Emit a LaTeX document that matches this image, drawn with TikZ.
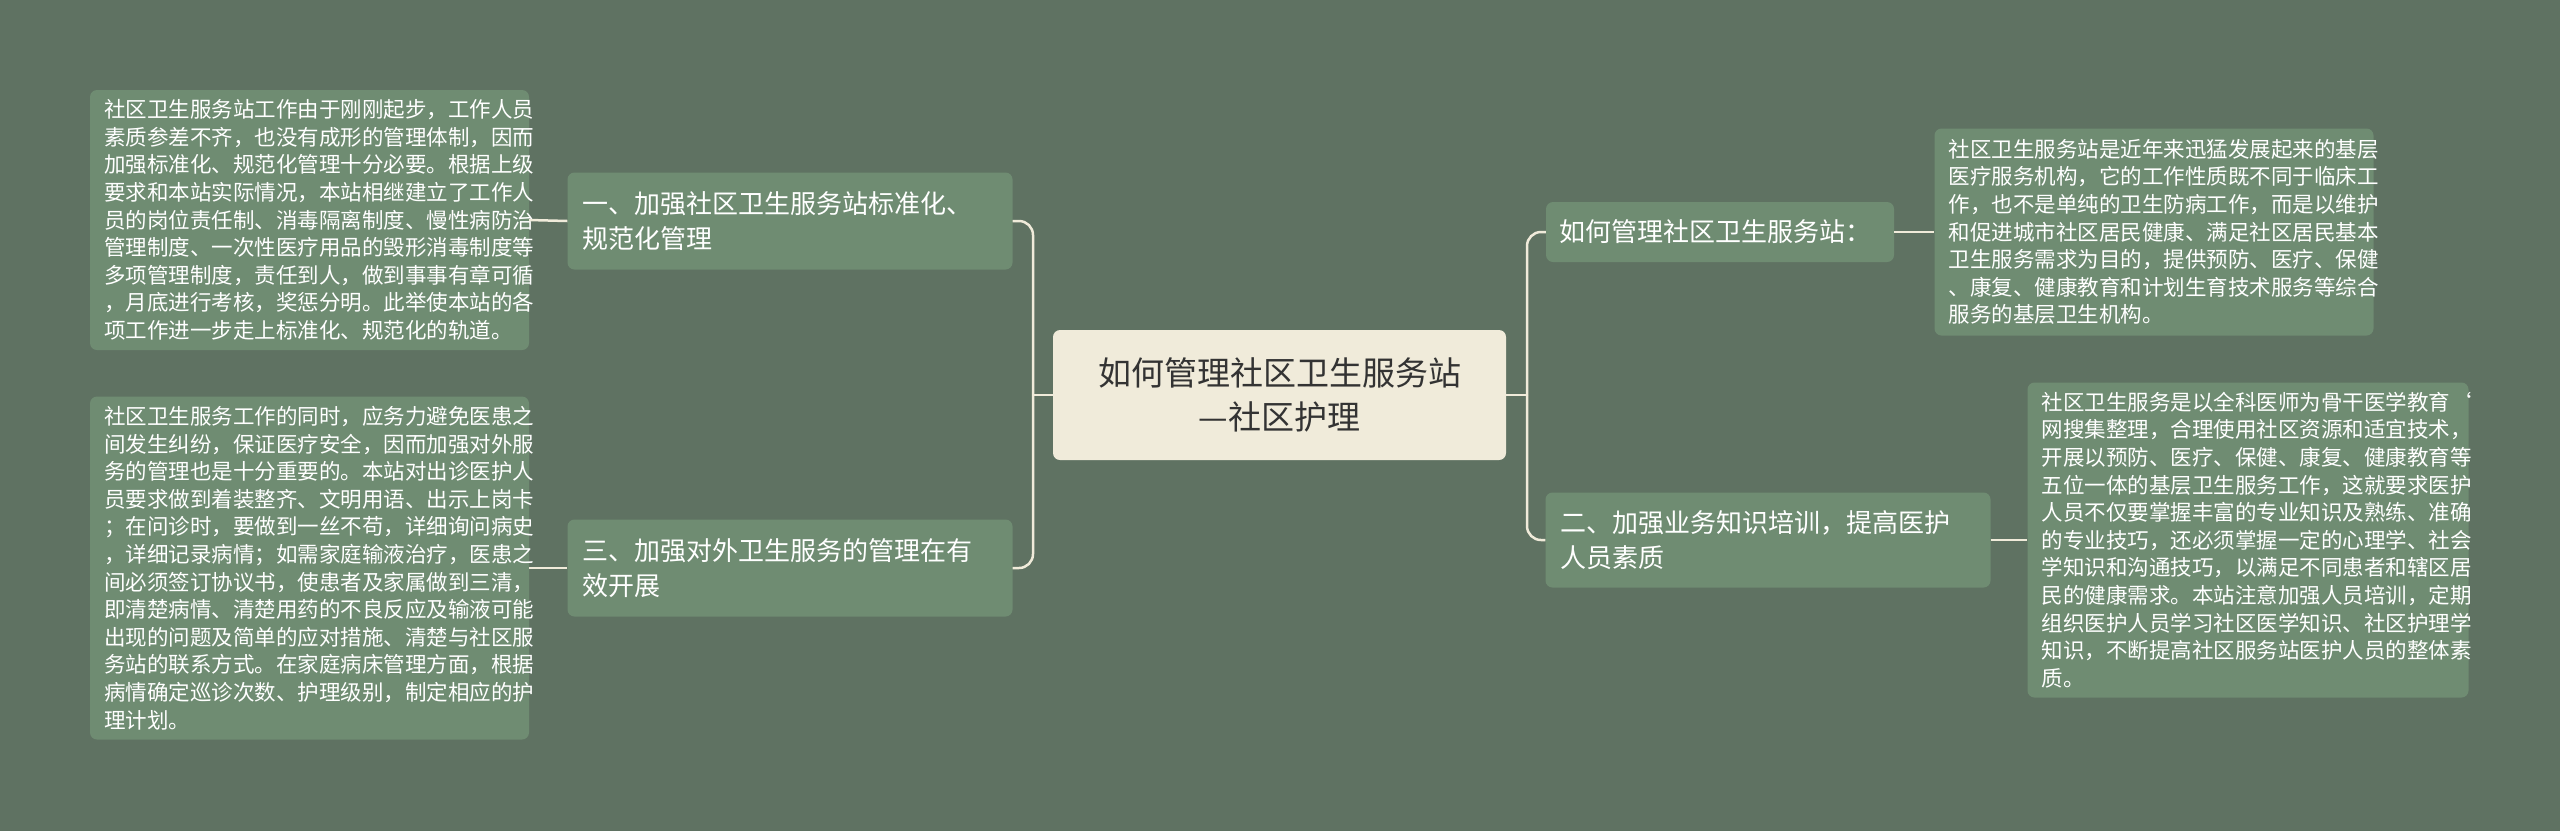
\documentclass[tikz,border=0pt]{standalone}
\usepackage{fontspec}
\setmainfont{Noto Sans CJK SC}
\definecolor{bg}{HTML}{5F7262}
\definecolor{boxc}{HTML}{6F8C72}
\definecolor{cream}{HTML}{F0EBDA}
\definecolor{darktxt}{HTML}{333333}
\begin{document}
\begin{tikzpicture}[x=1pt,y=1pt,
  leaf/.style={fill=boxc,rounded corners=7,text=white,align=left,inner sep=0pt,font=\fontsize{21.5}{27.6}\selectfont},
  branch/.style={fill=boxc,rounded corners=7,text=white,align=left,inner sep=0pt,font=\fontsize{26}{35}\selectfont},
  link/.style={draw=cream,line width=2.5pt}]
\fill[bg] (0,0) rectangle (2560,-831);
\useasboundingbox (0,0) rectangle (2560,-831);
\node[fill=cream,rounded corners=7,minimum width=453,minimum height=130,text=darktxt,align=center,font=\fontsize{33}{44}\selectfont] (c) at (1279.5,-395) {如何管理社区卫生服务站\\—社区护理};
\node[branch,minimum width=445,minimum height=97,text width=415] (lb1) at (790,-221) {一、加强社区卫生服务站标准化、\\规范化管理};
\node[branch,minimum width=445,minimum height=97,text width=415] (lb2) at (790,-568) {三、加强对外卫生服务的管理在有\\效开展};
\node[leaf,minimum width=439,minimum height=260,text width=411] (ll1) at (309.5,-220) {社区卫生服务站工作由于刚刚起步，工作人员\\素质参差不齐，也没有成形的管理体制，因而\\加强标准化、规范化管理十分必要。根据上级\\要求和本站实际情况，本站相继建立了工作人\\员的岗位责任制、消毒隔离制度、慢性病防治\\管理制度、一次性医疗用品的毁形消毒制度等\\多项管理制度，责任到人，做到事事有章可循\\，月底进行考核，奖惩分明。此举使本站的各\\项工作进一步走上标准化、规范化的轨道。};
\node[leaf,minimum width=439,minimum height=343,text width=411] (ll2) at (309.5,-568) {社区卫生服务工作的同时，应务力避免医患之\\间发生纠纷，保证医疗安全，因而加强对外服\\务的管理也是十分重要的。本站对出诊医护人\\员要求做到着装整齐、文明用语、出示上岗卡\\；在问诊时，要做到一丝不苟，详细询问病史\\，详细记录病情；如需家庭输液治疗，医患之\\间必须签订协议书，使患者及家属做到三清，\\即清楚病情、清楚用药的不良反应及输液可能\\出现的问题及简单的应对措施、清楚与社区服\\务站的联系方式。在家庭病床管理方面，根据\\病情确定巡诊次数、护理级别，制定相应的护\\理计划。};
\node[branch,minimum width=348,minimum height=60,text width=322] (rb1) at (1720,-232) {如何管理社区卫生服务站：};
\node[branch,minimum width=445,minimum height=95,text width=415] (rb2) at (1768,-540) {二、加强业务知识培训，提高医护\\人员素质};
\node[leaf,minimum width=439,minimum height=207,text width=411] (rl1) at (2154,-232) {社区卫生服务站是近年来迅猛发展起来的基层\\医疗服务机构，它的工作性质既不同于临床工\\作，也不是单纯的卫生防病工作，而是以维护\\和促进城市社区居民健康、满足社区居民基本\\卫生服务需求为目的，提供预防、医疗、保健\\、康复、健康教育和计划生育技术服务等综合\\服务的基层卫生机构。};
\node[leaf,minimum width=441,minimum height=315,text width=413] (rl2) at (2248,-540) {社区卫生服务是以全科医师为骨干医学教育`\\网搜集整理，合理使用社区资源和适宜技术，\\开展以预防、医疗、保健、康复、健康教育等\\五位一体的基层卫生服务工作，这就要求医护\\人员不仅要掌握丰富的专业知识及熟练、准确\\的专业技巧，还必须掌握一定的心理学、社会\\学知识和沟通技巧，以满足不同患者和辖区居\\民的健康需求。本站注意加强人员培训，定期\\组织医护人员学习社区医学知识、社区护理学\\知识，不断提高社区服务站医护人员的整体素\\质。};
\coordinate (jl) at (1033,-395);
\coordinate (jr) at (1527,-395);
\draw[link] (c.west) -- (jl);
\draw[link,rounded corners=14] (jl) |- (lb1.east);
\draw[link,rounded corners=14] (jl) |- (lb2.east);
\draw[link] (c.east) -- (jr);
\draw[link,rounded corners=14] (jr) |- (rb1.west);
\draw[link,rounded corners=14] (jr) |- (rb2.west);
\draw[link] (ll1.east) -- (lb1.west);
\draw[link] (ll2.east) -- (lb2.west);
\draw[link] (rb1.east) -- (rl1.west);
\draw[link] (rb2.east) -- (rl2.west);
\end{tikzpicture}
\end{document}
